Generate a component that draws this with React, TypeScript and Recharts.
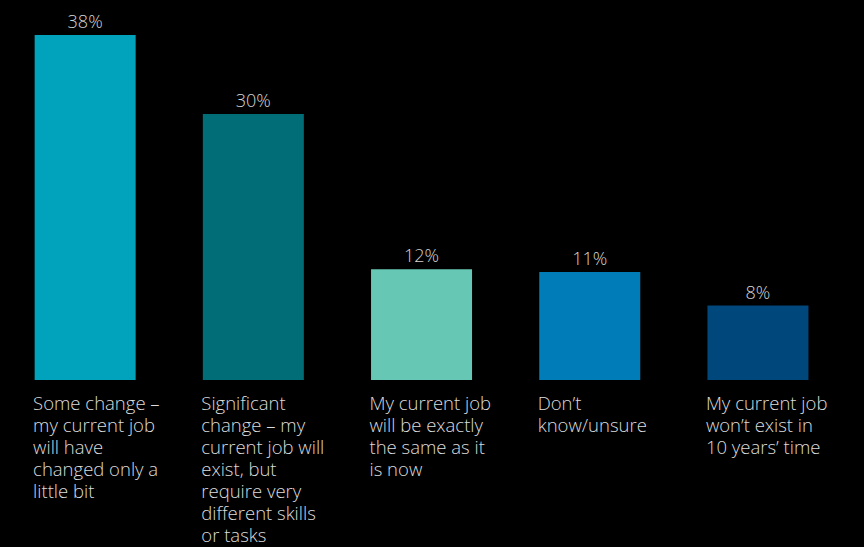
import React from "react";
import { BarChart, Bar, XAxis, YAxis, Cell, LabelList } from "recharts";

const categories = [
  "Some change – my current job will have changed only a little bit",
  "Significant change – my current job will exist, but require very different skills or tasks",
  "My current job will be exactly the same as it is now",
  "Don’t know/unsure",
  "My current job won’t exist in 10 years’ time",
];

const tickLines: string[][] = [
  ["Some change –", "my current job", "will have", "changed only a", "little bit"],
  ["Significant", "change – my", "current job will", "exist, but", "require very", "different skills", "or tasks"],
  ["My current job", "will be exactly", "the same as it", "is now"],
  ["Don’t", "know/unsure"],
  ["My current job", "won’t exist in", "10 years’ time"],
];

const values = [38, 29.3, 12.2, 11.9, 8.2];
const valueLabels = ["38%", "30%", "12%", "11%", "8%"];
const colors = ["#00A3BB", "#006D77", "#66C7B4", "#007DB8", "#00477B"];

const data = categories.map((c, i) => ({
  category: c,
  value: values[i],
  label: valueLabels[i],
  idx: i,
}));

const FONT = "'Open Sans', 'Noto Sans', sans-serif";

const CustomTick = (props: any) => {
  const { x, y, index } = props;
  const lines = tickLines[index] || [];
  return (
    <g>
      {lines.map((l, i) => (
        <text
          key={i}
          x={x - 52}
          y={y + 22 + i * 22}
          fill="#dcdcdc"
          fontSize={18.5}
          fontWeight={300}
          fontFamily={FONT}
          textAnchor="start"
        >
          {l}
        </text>
      ))}
    </g>
  );
};

export default function App() {
  return (
    <div
      style={{
        position: "fixed",
        left: 0,
        top: 0,
        width: 864,
        height: 547,
        background: "#000000",
      }}
    >
      <BarChart
        width={864}
        height={547}
        data={data}
        margin={{ top: 35, right: 22, left: 1, bottom: 0 }}
        barCategoryGap="20%"
      >
        <XAxis
          dataKey="category"
          tick={<CustomTick />}
          tickLine={false}
          axisLine={false}
          interval={0}
          height={167}
        />
        <YAxis hide domain={[0, 38]} />
        <Bar dataKey="value" isAnimationActive={false}>
          {data.map((d, i) => (
            <Cell key={i} fill={colors[i]} />
          ))}
          <LabelList
            dataKey="label"
            position="top"
            offset={7}
            fill="#d4d4d4"
            fontSize={18}
            fontWeight={300}
            fontFamily={FONT}
          />
        </Bar>
      </BarChart>
    </div>
  );
}
